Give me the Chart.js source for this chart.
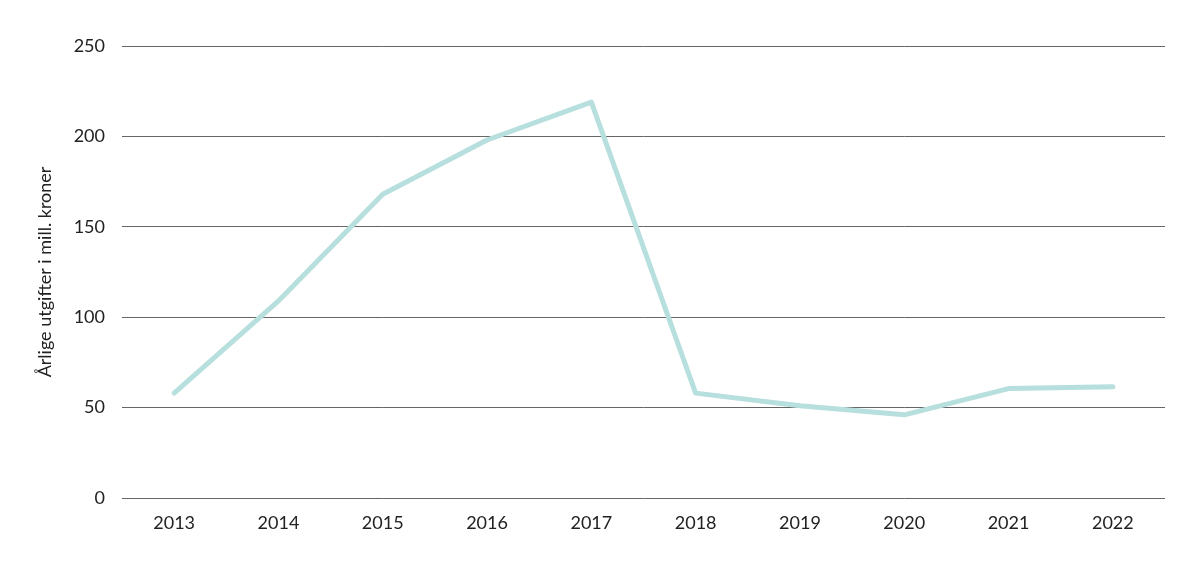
<!DOCTYPE html>
<html>
<head>
<meta charset="utf-8">
<script src="https://cdn.jsdelivr.net/npm/chart.js@4"></script>
<style>
  html, body { margin: 0; padding: 0; background: #fff; }
  #wrap { width: 1200px; height: 569px; }
</style>
</head>
<body>
<div id="wrap"><canvas id="chart"></canvas></div>
<script>
// Data
const years = ['2013', '2014', '2015', '2016', '2017', '2018', '2019', '2020', '2021', '2022'];
const spending = [58, 109, 168, 198, 219, 58, 51, 46, 60.5, 61.5];
const yTicks = [0, 50, 100, 150, 200, 250];
const yTitle = 'Årlige utgifter i mill. kroner';

const font = { family: 'Lato, "Open Sans", sans-serif', size: 18 };

new Chart(document.getElementById('chart').getContext('2d'), {
    type: 'line',
    data: {
        labels: years,
        datasets: [{
            data: spending,
            borderColor: '#b6dfdd',
            borderWidth: 5,
            pointRadius: 0,
            tension: 0,
            borderCapStyle: 'round',
            borderJoinStyle: 'round'
        }]
    },
    options: {
        responsive: true,
        maintainAspectRatio: false,
        animation: false,
        plugins: { legend: { display: false }, tooltip: { enabled: false } },
        layout: { padding: { left: 28, right: 35, top: 46, bottom: 0 } },
        scales: {
            x: {
                offset: true,
                grid: { display: false, drawTicks: false },
                border: { display: false },
                ticks: { color: '#222', font: font, padding: 14 },
                afterFit: function(axis) { axis.height = 71; }
            },
            y: {
                min: 0,
                max: 250,
                afterBuildTicks: function(axis) {
                    axis.ticks = yTicks.map(v => ({ value: v }));
                },
                grid: { color: '#666', lineWidth: 1, drawTicks: false },
                border: { display: false },
                ticks: { color: '#222', font: font, padding: 17 },
                title: {
                    display: true,
                    text: yTitle,
                    color: '#222',
                    font: font,
                    padding: { top: 6, bottom: 0 }
                },
                afterFit: function(axis) { axis.width = 94; }
            }
        }
    }
});
</script>
</body>
</html>
